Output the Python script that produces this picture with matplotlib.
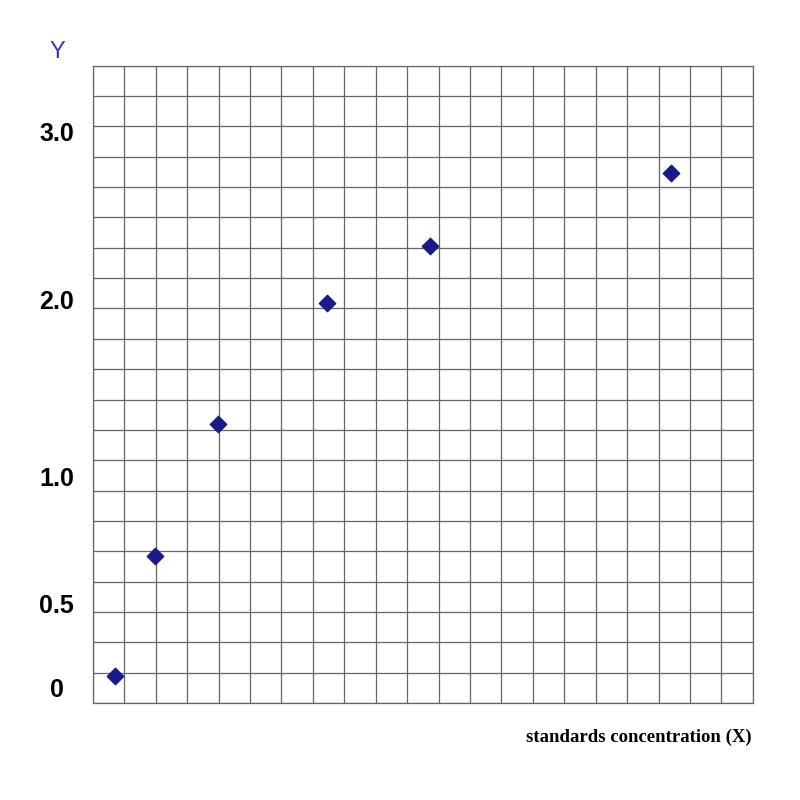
import matplotlib
matplotlib.use("Agg")
import matplotlib.pyplot as plt

# data in grid units of the chart
x_vals = [0.7, 1.97, 3.98, 7.45, 10.72, 18.39]
y_vals = [0.89, 4.84, 9.18, 13.17, 15.05, 17.45]
ytick_labels = ["0", "0.5", "1.0", "2.0", "3.0"]
ytick_pos = [0.43, 3.2, 7.4, 13.2, 18.75]

fig = plt.figure(figsize=(8, 8), dpi=100)
ax = fig.add_axes([0.116, 0.121, 0.825, 0.797])
ax.set_xlim(0, 21)
ax.set_ylim(0, 21)
ax.set_xticks(range(22))
ax.set_yticks(range(22))
ax.grid(True, color="#666666", linewidth=0.9)
ax.tick_params(length=0, labelleft=False, labelbottom=False)
for s in ax.spines.values():
    s.set_color("#666666"); s.set_linewidth(0.9)
ax.scatter(x_vals, y_vals, marker="D", s=70, color="#1a1a8c", zorder=3)
for lab, p in zip(ytick_labels, ytick_pos):
    ax.text(-1.15, p, lab, ha="center", va="center", fontsize=18, fontweight="bold",
            family="Liberation Sans", transform=ax.transData, clip_on=False)
fig.text(57/800, 1-52/800, "Y", color="#3b3bb0", fontsize=17, family="Liberation Sans",
         ha="center", va="center")
fig.text(752/800, 1-737/800, "standards concentration (X)", fontsize=13.5, fontweight="bold",
         family="Liberation Serif", ha="right", va="center")
fig.savefig("out.png")
